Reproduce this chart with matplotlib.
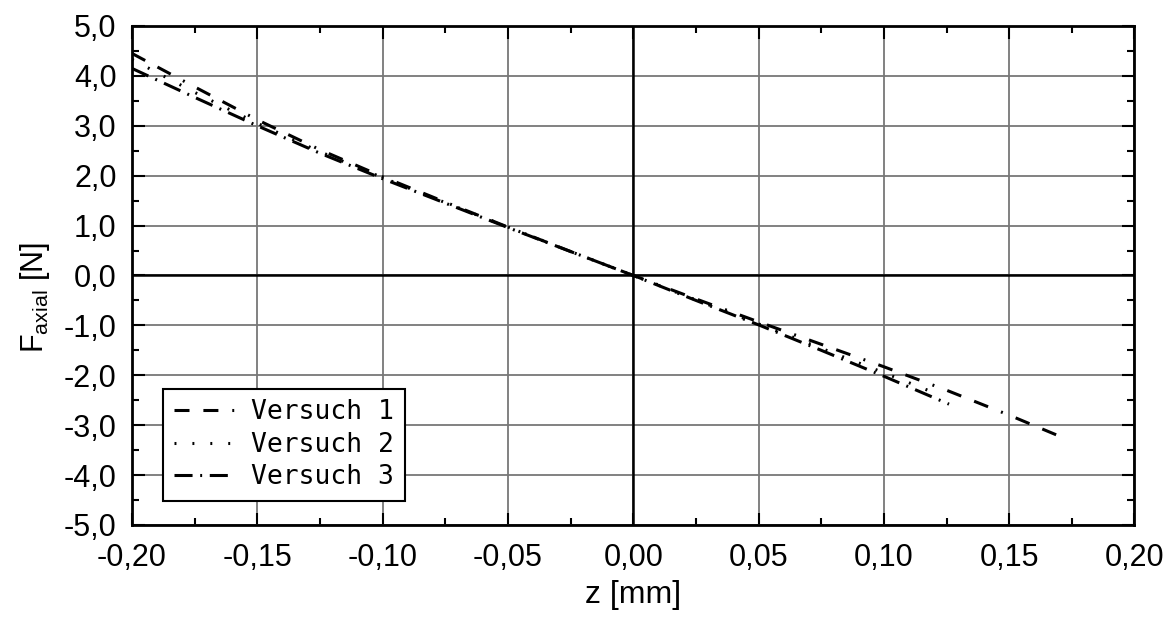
import numpy as np
import matplotlib
matplotlib.use("Agg")
import matplotlib.pyplot as plt
from matplotlib.ticker import MultipleLocator, FuncFormatter

# values (z in mm, F in N)
z1 = [-0.200, -0.175, -0.150, -0.125, -0.100, -0.075, -0.050, -0.025, 0.000,
      0.025, 0.050, 0.075, 0.100, 0.125, 0.150, 0.170]
f1 = [4.45, 3.78, 3.12, 2.52, 1.98, 1.47, 0.97, 0.48, 0.00,
      -0.47, -0.93, -1.38, -1.83, -2.30, -2.80, -3.22]
z2 = [-0.200, -0.175, -0.150, -0.125, -0.100, -0.075, -0.050, -0.025, 0.000,
      0.025, 0.050, 0.075, 0.100, 0.120]
f2 = [4.33, 3.67, 3.05, 2.48, 1.96, 1.46, 0.97, 0.48, 0.00,
      -0.49, -0.97, -1.46, -1.95, -2.35]
z3 = [-0.200, -0.175, -0.150, -0.125, -0.100, -0.075, -0.050, -0.025, 0.000,
      0.025, 0.050, 0.075, 0.100, 0.126]
f3 = [4.15, 3.57, 3.00, 2.45, 1.94, 1.45, 0.96, 0.48, 0.00,
      -0.50, -0.99, -1.50, -2.02, -2.58]
labels = ["Versuch 1", "Versuch 2", "Versuch 3"]

plt.rcParams['font.family'] = ['Liberation Sans', 'DejaVu Sans']
plt.rcParams['lines.scale_dashes'] = False

fig = plt.figure(figsize=(11.72, 6.19), dpi=100)
ax = fig.add_axes([0.1126, 0.152, 0.8554, 0.806])

ax.plot(z1, f1, color='black', lw=2.2, dashes=(10.8, 10, 10.8, 10, 1.4, 10), label=labels[0])
ax.plot(z2, f2, color='black', lw=2.2, dashes=(1.4, 11.5), label=labels[1])
ax.plot(z3, f3, color='black', lw=2.2, dashes=(13, 5.5, 1.4, 5.5), label=labels[2])

ax.set_xlim(-0.2, 0.2)
ax.set_ylim(-5, 5)
ax.xaxis.set_major_locator(MultipleLocator(0.05))
ax.xaxis.set_minor_locator(MultipleLocator(0.025))
ax.yaxis.set_major_locator(MultipleLocator(1.0))
ax.yaxis.set_minor_locator(MultipleLocator(0.5))
ax.xaxis.set_major_formatter(FuncFormatter(lambda v, p: ('%.2f' % v).replace('.', ',').replace('-0,00', '0,00')))
ax.yaxis.set_major_formatter(FuncFormatter(lambda v, p: ('%.1f' % v).replace('.', ',').replace('-0,0', '0,0')))

ax.grid(True, which='major', color='#777777', lw=1.3)
ax.axhline(0, color='black', lw=1.8, zorder=1.5)
ax.axvline(0, color='black', lw=1.8, zorder=1.5)
ax.set_axisbelow(True)

ax.tick_params(which='both', direction='in', top=True, right=True, labelsize=22, width=1.5)
ax.tick_params(which='major', length=9)
ax.tick_params(which='minor', length=5)
ax.tick_params(axis='x', pad=13)
ax.tick_params(axis='y', pad=11)
for s in ax.spines.values():
    s.set_linewidth(2)

ax.set_xlabel('z [mm]', fontsize=23, labelpad=5)
ax.set_ylabel(r'F$_\mathregular{axial}$ [N]', fontsize=22)
ax.yaxis.set_label_coords(-0.08, 0.455)

leg = ax.legend(loc='lower left', bbox_to_anchor=(0.031, 0.048), borderaxespad=0,
                fancybox=False, edgecolor='black', framealpha=1, handlelength=2.3,
                handletextpad=0.65, borderpad=0.4, labelspacing=0.25,
                prop={'family': 'DejaVu Sans Mono', 'size': 19})
leg.get_frame().set_linewidth(1.5)

fig.savefig('out.png', dpi=100)
